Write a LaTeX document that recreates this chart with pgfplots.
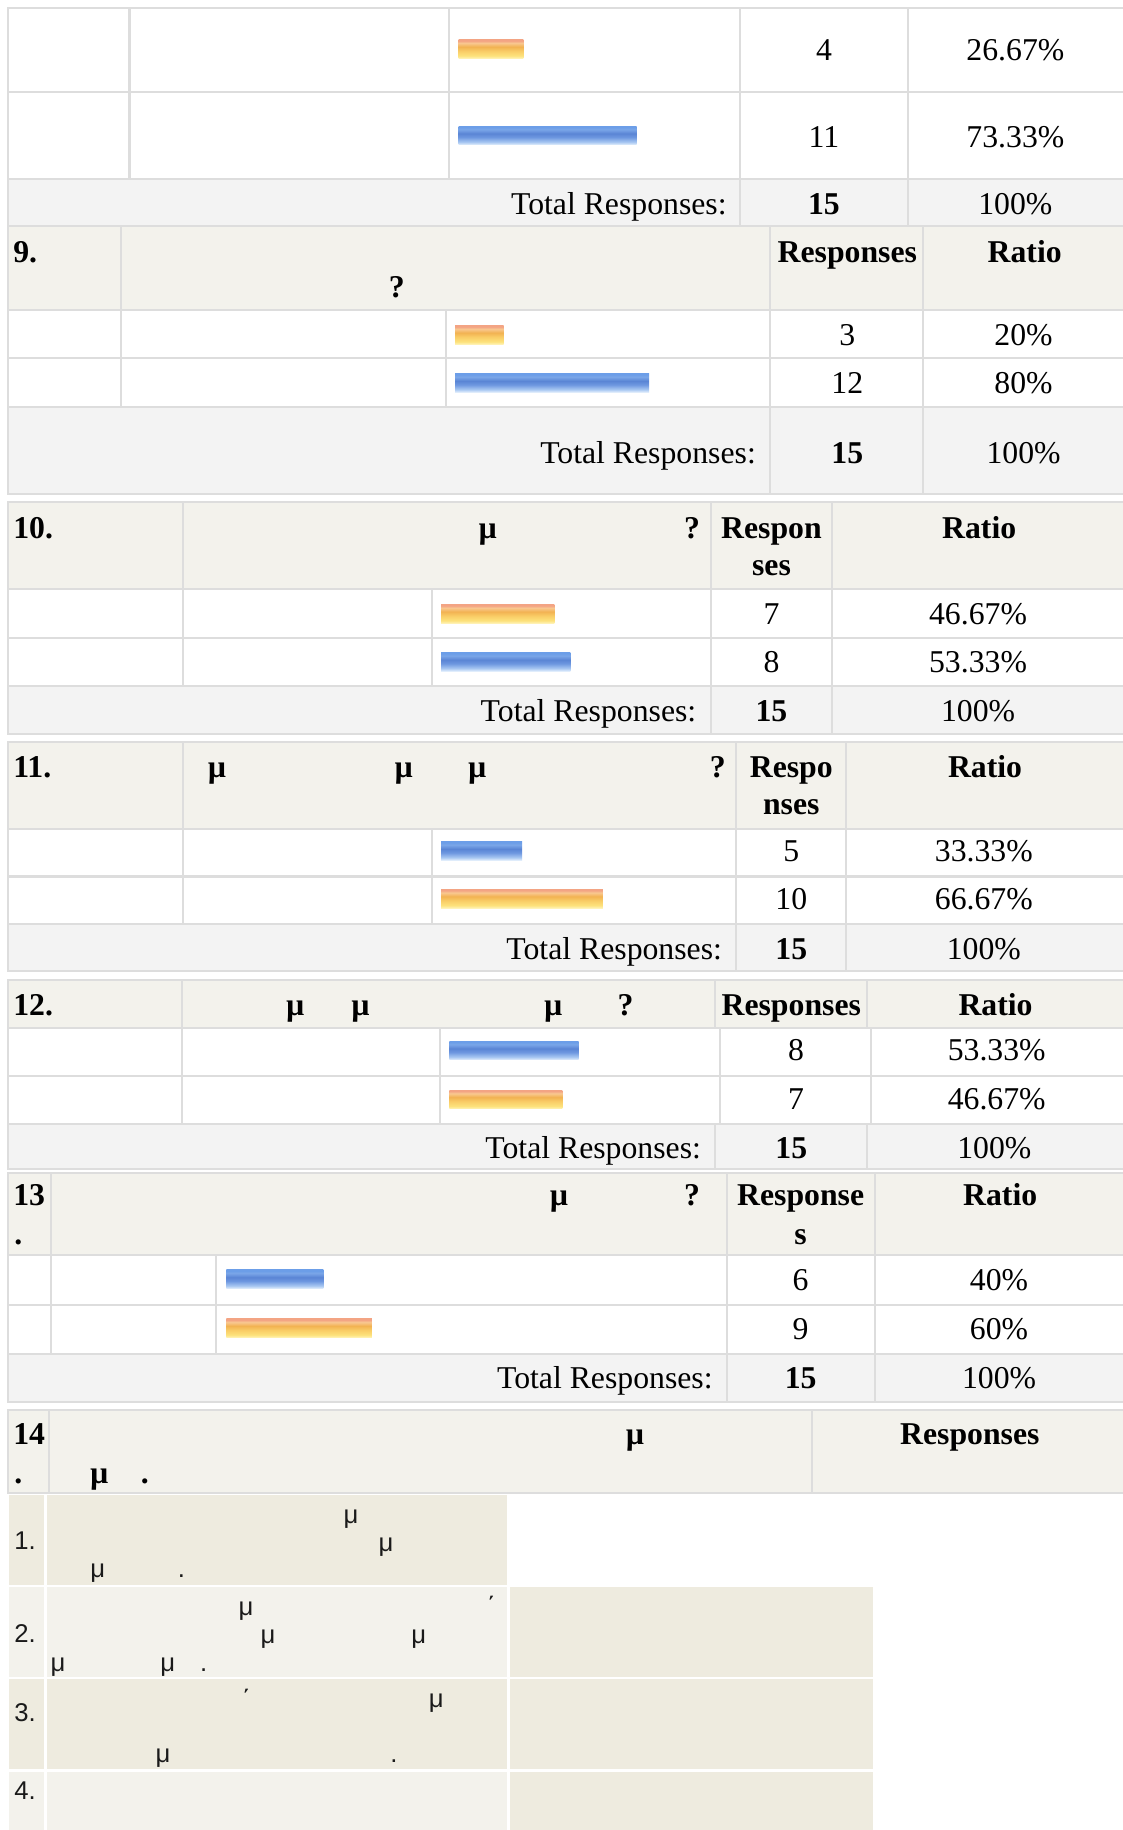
\documentclass[border=0pt]{standalone}
\usepackage{fontspec}
\setmainfont{Liberation Serif}
\newfontfamily\sansf{Liberation Sans}
\usepackage{pgfplots}
\pgfplotsset{compat=1.18}
\definecolor{bd}{HTML}{DDDDDD}
\definecolor{hdr}{HTML}{F3F2EC}
\definecolor{tot}{HTML}{F3F3F3}
\definecolor{dk}{HTML}{EEEBDF}
\definecolor{lt}{HTML}{F3F2EC}
\definecolor{txt}{HTML}{1A1A1A}
% orange bar shading (bottom -> top)
\definecolor{Oa}{HTML}{FFF3B8}
\definecolor{Ob}{HTML}{FDE27C}
\definecolor{Oc}{HTML}{F9CC66}
\definecolor{Od}{HTML}{F2B252}
\definecolor{Oe}{HTML}{F9C890}
\definecolor{Of}{HTML}{F3A484}
\pgfdeclareverticalshading{barO}{100bp}{color(0bp)=(Oa); color(25bp)=(Oa); color(32bp)=(Ob); color(45bp)=(Oc); color(56bp)=(Od); color(66bp)=(Oe); color(72bp)=(Of); color(75bp)=(Of); color(100bp)=(Of)}
% blue bar shading
\definecolor{Ba}{HTML}{E2EEFC}
\definecolor{Bb}{HTML}{A9C8F2}
\definecolor{Bc}{HTML}{6D97E0}
\definecolor{Bd}{HTML}{5A85D5}
\definecolor{Be}{HTML}{7AA6E8}
\definecolor{Bf}{HTML}{6C9EE8}
\pgfdeclareverticalshading{barB}{100bp}{color(0bp)=(Ba); color(25bp)=(Ba); color(32bp)=(Bb); color(45bp)=(Bc); color(55bp)=(Bd); color(66bp)=(Be); color(72bp)=(Bf); color(75bp)=(Bf); color(100bp)=(Bf)}
\newcommand{\cell}[5]{\filldraw[fill=#5, draw=bd, line width=0.9pt] (axis cs:#1,#2) rectangle (axis cs:#3,#4);}
\newcommand{\bx}[5]{\fill[#5] (axis cs:#1,#2) rectangle (axis cs:#3,#4);}
\newcommand{\T}[3]{\node[anchor=base, inner sep=0pt, font=\fontsize{13.6}{16}\selectfont] at (axis cs:#1,#2) {#3};}
\newcommand{\TB}[3]{\node[anchor=base, inner sep=0pt, font=\fontsize{13.6}{16}\selectfont\bfseries] at (axis cs:#1,#2) {#3};}
\newcommand{\TBL}[3]{\node[anchor=base west, inner sep=0pt, font=\fontsize{13.6}{16}\selectfont\bfseries] at (axis cs:#1,#2) {#3};}
\newcommand{\TR}[3]{\node[anchor=base east, inner sep=0pt, font=\fontsize{13.6}{16}\selectfont] at (axis cs:#1,#2) {#3};}
\newcommand{\TS}[3]{\node[anchor=base west, inner sep=0pt, text=txt] at (axis cs:#1,#2) {\sansf\fontsize{11}{13}\selectfont #3};}
\begin{document}
\begin{tikzpicture}
\begin{axis}[width=481pt, height=784pt, scale only axis, xmin=0, xmax=962, ymin=0, ymax=1568,
  y dir=reverse, hide axis, clip=false, enlargelimits=false]
\coordinate (SW) at (axis cs:0,1568);
\coordinate (NE) at (axis cs:962,0);
% ---------- Section 8 (partial) ----------
\cell{7}{7}{111}{79}{white}\cell{111}{7}{385}{79}{white}\cell{385}{7}{634}{79}{white}\cell{634}{7}{778}{79}{white}\cell{778}{7}{965}{79}{white}
\cell{7}{79}{111}{153}{white}\cell{111}{79}{385}{153}{white}\cell{385}{79}{634}{153}{white}\cell{634}{79}{778}{153}{white}\cell{778}{79}{965}{153}{white}
\cell{7}{153}{634}{194}{tot}\cell{634}{153}{778}{194}{tot}\cell{778}{153}{965}{194}{tot}
% ---------- Section 9 ----------
\cell{7}{194}{104}{266}{hdr}\cell{104}{194}{660}{266}{hdr}\cell{660}{194}{791}{266}{hdr}\cell{791}{194}{965}{266}{hdr}
\cell{7}{266}{104}{307}{white}\cell{104}{266}{382}{307}{white}\cell{382}{266}{660}{307}{white}\cell{660}{266}{791}{307}{white}\cell{791}{266}{965}{307}{white}
\cell{7}{307}{104}{349}{white}\cell{104}{307}{382}{349}{white}\cell{382}{307}{660}{349}{white}\cell{660}{307}{791}{349}{white}\cell{791}{307}{965}{349}{white}
\cell{7}{349}{660}{423}{tot}\cell{660}{349}{791}{423}{tot}\cell{791}{349}{965}{423}{tot}
% ---------- Section 10 ----------
\cell{7}{430}{157}{505}{hdr}\cell{157}{430}{609}{505}{hdr}\cell{609}{430}{713}{505}{hdr}\cell{713}{430}{965}{505}{hdr}
\cell{7}{505}{157}{547}{white}\cell{157}{505}{370}{547}{white}\cell{370}{505}{609}{547}{white}\cell{609}{505}{713}{547}{white}\cell{713}{505}{965}{547}{white}
\cell{7}{547}{157}{588}{white}\cell{157}{547}{370}{588}{white}\cell{370}{547}{609}{588}{white}\cell{609}{547}{713}{588}{white}\cell{713}{547}{965}{588}{white}
\cell{7}{588}{609}{629}{tot}\cell{609}{588}{713}{629}{tot}\cell{713}{588}{965}{629}{tot}
% ---------- Section 11 ----------
\cell{7}{636}{157}{710}{hdr}\cell{157}{636}{631}{710}{hdr}\cell{631}{636}{725}{710}{hdr}\cell{725}{636}{965}{710}{hdr}
\cell{7}{710}{157}{751}{white}\cell{157}{710}{370}{751}{white}\cell{370}{710}{631}{751}{white}\cell{631}{710}{725}{751}{white}\cell{725}{710}{965}{751}{white}
\cell{7}{751}{157}{792}{white}\cell{157}{751}{370}{792}{white}\cell{370}{751}{631}{792}{white}\cell{631}{751}{725}{792}{white}\cell{725}{751}{965}{792}{white}
\cell{7}{792}{631}{832}{tot}\cell{631}{792}{725}{832}{tot}\cell{725}{792}{965}{832}{tot}
% ---------- Section 12 ----------
\cell{7}{840}{156}{881}{hdr}\cell{156}{840}{613}{881}{hdr}\cell{613}{840}{743}{881}{hdr}\cell{743}{840}{965}{881}{hdr}
\cell{7}{881}{156}{922}{white}\cell{156}{881}{377}{922}{white}\cell{377}{881}{617}{922}{white}\cell{617}{881}{746}{922}{white}\cell{746}{881}{965}{922}{white}
\cell{7}{922}{156}{963}{white}\cell{156}{922}{377}{963}{white}\cell{377}{922}{617}{963}{white}\cell{617}{922}{746}{963}{white}\cell{746}{922}{965}{963}{white}
\cell{7}{963}{613}{1002}{tot}\cell{613}{963}{743}{1002}{tot}\cell{743}{963}{965}{1002}{tot}
% ---------- Section 13 ----------
\cell{7}{1005}{44}{1075}{hdr}\cell{44}{1005}{623}{1075}{hdr}\cell{623}{1005}{750}{1075}{hdr}\cell{750}{1005}{965}{1075}{hdr}
\cell{7}{1075}{44}{1118}{white}\cell{44}{1075}{185}{1118}{white}\cell{185}{1075}{623}{1118}{white}\cell{623}{1075}{750}{1118}{white}\cell{750}{1075}{965}{1118}{white}
\cell{7}{1118}{44}{1160}{white}\cell{44}{1118}{185}{1160}{white}\cell{185}{1118}{623}{1160}{white}\cell{623}{1118}{750}{1160}{white}\cell{750}{1118}{965}{1160}{white}
\cell{7}{1160}{623}{1201}{tot}\cell{623}{1160}{750}{1201}{tot}\cell{750}{1160}{965}{1201}{tot}
% ---------- Section 14 ----------
\cell{7}{1208}{42}{1279}{hdr}\cell{42}{1208}{696}{1279}{hdr}\cell{696}{1208}{965}{1279}{hdr}
\bx{8}{1281}{38}{1358}{dk}\bx{40}{1281}{434}{1358}{dk}
\bx{8}{1360}{38}{1437}{lt}\bx{40}{1360}{434}{1437}{lt}\bx{437}{1360}{748}{1437}{dk}
\bx{8}{1439}{38}{1516}{dk}\bx{40}{1439}{434}{1516}{dk}\bx{437}{1439}{748}{1516}{dk}
\bx{8}{1518}{38}{1570}{lt}\bx{40}{1518}{434}{1570}{lt}\bx{437}{1518}{748}{1570}{dk}
% ---------- Bars (length = responses x 13.85) ----------
% Q8: 4, 11
\addplot[draw=none, shading=barO] coordinates {(393,34) (448.4,34) (448.4,50) (393,50)} -- cycle;
\addplot[draw=none, shading=barB] coordinates {(393,108) (545.4,108) (545.4,124) (393,124)} -- cycle;
% Q9: 3, 12
\addplot[draw=none, shading=barO] coordinates {(390,279) (431.6,279) (431.6,295) (390,295)} -- cycle;
\addplot[draw=none, shading=barB] coordinates {(390,320) (556.2,320) (556.2,336) (390,336)} -- cycle;
% Q10: 7, 8
\addplot[draw=none, shading=barO] coordinates {(378,518) (474.9,518) (474.9,534) (378,534)} -- cycle;
\addplot[draw=none, shading=barB] coordinates {(378,559) (488.8,559) (488.8,575) (378,575)} -- cycle;
% Q11: 5, 10
\addplot[draw=none, shading=barB] coordinates {(378,721) (447.3,721) (447.3,737) (378,737)} -- cycle;
\addplot[draw=none, shading=barO] coordinates {(378,762) (516.5,762) (516.5,778) (378,778)} -- cycle;
% Q12: 8, 7
\addplot[draw=none, shading=barB] coordinates {(385,892) (495.8,892) (495.8,908) (385,908)} -- cycle;
\addplot[draw=none, shading=barO] coordinates {(385,934) (481.9,934) (481.9,950) (385,950)} -- cycle;
% Q13: 6, 9
\addplot[draw=none, shading=barB] coordinates {(194,1088) (277.1,1088) (277.1,1104) (194,1104)} -- cycle;
\addplot[draw=none, shading=barO] coordinates {(194,1130) (318.6,1130) (318.6,1146) (194,1146)} -- cycle;
% ---------- Texts ----------
% Q8
\T{706}{52}{4}\T{870}{52}{26.67\%}
\T{706}{126}{11}\T{870}{126}{73.33\%}
\TR{623}{184}{Total Responses:}\TB{706}{184}{15}\T{870}{184}{100\%}
% Q9
\TBL{11}{225}{9.}\TB{340}{255}{?}\TB{726}{225}{Responses}\TB{878}{225}{Ratio}
\T{726}{296}{3}\T{877}{296}{20\%}
\T{726}{337}{12}\T{877}{337}{80\%}
\TR{648}{397}{Total Responses:}\TB{726}{397}{15}\T{877}{397}{100\%}
% Q10
\TBL{11}{461}{10.}\TB{418}{461}{µ}\TB{593}{461}{?}\TB{661}{461}{Respon}\TB{661}{493}{ses}\TB{839}{461}{Ratio}
\T{661}{535}{7}\T{838}{535}{46.67\%}
\T{661}{576}{8}\T{838}{576}{53.33\%}
\TR{597}{618}{Total Responses:}\TB{661}{618}{15}\T{838}{618}{100\%}
% Q11
\TBL{11}{666}{11.}\TB{186}{666}{µ}\TB{346}{666}{µ}\TB{409}{666}{µ}\TB{615}{666}{?}\TB{678}{666}{Respo}\TB{678}{698}{nses}\TB{844}{666}{Ratio}
\T{678}{738}{5}\T{843}{738}{33.33\%}
\T{678}{779}{10}\T{843}{779}{66.67\%}
\TR{619}{822}{Total Responses:}\TB{678}{822}{15}\T{843}{822}{100\%}
% Q12
\TBL{11}{870}{12.}\TB{253}{870}{µ}\TB{309}{870}{µ}\TB{474}{870}{µ}\TB{536}{870}{?}\TB{678}{870}{Responses}\TB{853}{870}{Ratio}
\T{682}{909}{8}\T{854}{909}{53.33\%}
\T{682}{951}{7}\T{854}{951}{46.67\%}
\TR{601}{993}{Total Responses:}\TB{678}{993}{15}\T{852}{993}{100\%}
% Q13
\TBL{11}{1033}{13}\TBL{12}{1066}{.}\TB{479}{1033}{µ}\TB{593}{1033}{?}\TB{686}{1033}{Response}\TB{686}{1066}{s}\TB{857}{1033}{Ratio}
\T{686}{1106}{6}\T{856}{1106}{40\%}
\T{686}{1148}{9}\T{856}{1148}{60\%}
\TR{611}{1190}{Total Responses:}\TB{686}{1190}{15}\T{856}{1190}{100\%}
% Q14
\TBL{11}{1238}{14}\TBL{12}{1271}{.}\TB{85}{1271}{µ}\TB{124}{1271}{.}\TB{544}{1238}{µ}\TB{831}{1238}{Responses}
\TS{12}{1328}{1.}\TS{294}{1305}{μ}\TS{324}{1329}{μ}\TS{77}{1352}{μ}\TS{152}{1352}{.}
\TS{12}{1407}{2.}\TS{204}{1384}{μ}\TS{417}{1384}{΄}\TS{223}{1408}{μ}\TS{352}{1408}{μ}\TS{43}{1432}{μ}\TS{137}{1432}{μ}\TS{171}{1432}{.}
\TS{12}{1475}{3.}\TS{207}{1464}{΄}\TS{367}{1463}{μ}\TS{133}{1510}{μ}\TS{334}{1510}{.}
\TS{12}{1542}{4.}
\end{axis}
\pgfresetboundingbox
\useasboundingbox (SW) rectangle (NE);
\end{tikzpicture}
\end{document}
